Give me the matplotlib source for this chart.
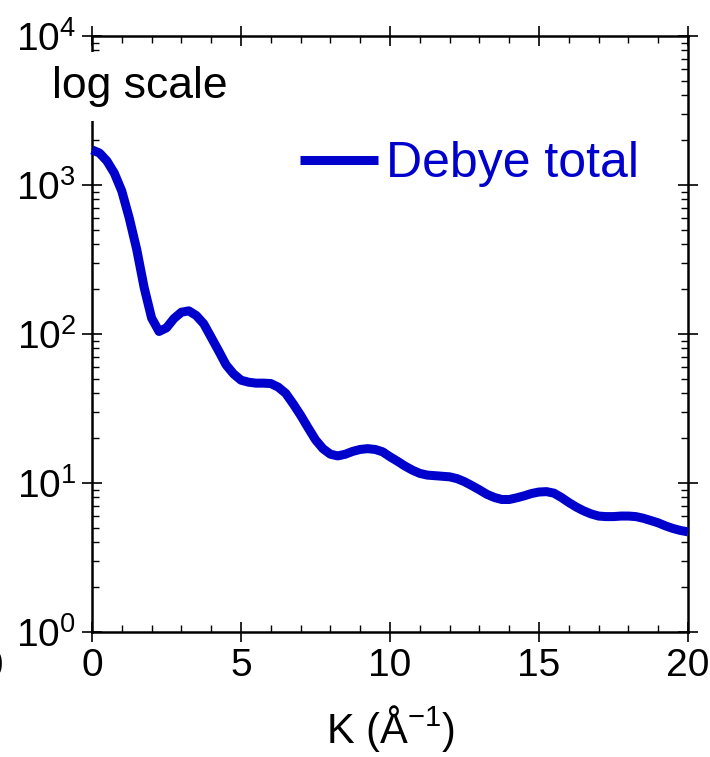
import numpy as np
import matplotlib
matplotlib.use("Agg")
import matplotlib.pyplot as plt
from matplotlib.ticker import LogLocator, MultipleLocator, LogFormatterMathtext, NullFormatter

plt.rcParams['font.family'] = ['Liberation Sans', 'DejaVu Sans']
plt.rcParams['mathtext.fontset'] = 'custom'
plt.rcParams['mathtext.rm'] = 'Liberation Sans'
plt.rcParams['mathtext.it'] = 'Liberation Sans:italic'
plt.rcParams['mathtext.bf'] = 'Liberation Sans:bold'

# K values (1/Angstrom) and Debye total intensity
k_vals = [0.0, 0.25, 0.5, 0.75, 1.0, 1.25, 1.5, 1.75, 2.0, 2.25, 2.5, 2.75,
          3.0, 3.25, 3.5, 3.75, 4.0, 4.25, 4.5, 4.75, 5.0, 5.25, 5.5, 5.75,
          6.0, 6.25, 6.5, 6.75, 7.0, 7.25, 7.5, 7.75, 8.0, 8.25, 8.5, 8.75,
          9.0, 9.25, 9.5, 9.75, 10.0, 10.25, 10.5, 10.75, 11.0, 11.25, 11.5,
          11.75, 12.0, 12.25, 12.5, 12.75, 13.0, 13.25, 13.5, 13.75, 14.0,
          14.25, 14.5, 14.75, 15.0, 15.25, 15.5, 15.75, 16.0, 16.25, 16.5,
          16.75, 17.0, 17.25, 17.5, 17.75, 18.0, 18.25, 18.5, 18.75, 19.0,
          19.25, 19.5, 19.75, 20.0]
debye_total = [1720, 1640, 1450, 1200, 910, 600, 370, 205, 128, 104, 110, 127,
               140, 143, 133, 117, 95, 77, 62, 54, 49, 47.5, 46.8, 46.8,
               46.5, 44, 40, 34, 28.5, 23.5, 19.5, 17, 15.6, 15.2, 15.6, 16.3,
               16.8, 17.0, 16.8, 16.2, 15.0, 14.0, 13.0, 12.2, 11.6, 11.3, 11.2,
               11.1, 11.0, 10.7, 10.2, 9.6, 9.0, 8.4, 8.0, 7.75, 7.75,
               7.95, 8.2, 8.5, 8.7, 8.75, 8.55, 8.0, 7.4, 6.9, 6.5,
               6.2, 6.0, 5.95, 5.95, 6.0, 6.0, 5.95, 5.8, 5.6, 5.4,
               5.15, 4.95, 4.8, 4.7]

line_color = '#0000CC'

fig = plt.figure(figsize=(7.1, 7.57), dpi=100)
ax = fig.add_axes([92/710, 1 - 632/757, 596/710, 596/757])

ax.plot(k_vals, debye_total, color=line_color, lw=6.5, solid_capstyle='butt',
        solid_joinstyle='round', label='Debye total', zorder=3, clip_on=False)

ax.set_yscale('log')
ax.set_xlim(0, 20)
ax.set_ylim(1, 1e4)

ax.xaxis.set_major_locator(MultipleLocator(5))
ax.xaxis.set_minor_locator(MultipleLocator(1))
ax.yaxis.set_major_locator(LogLocator(base=10, numticks=10))
ax.yaxis.set_minor_locator(LogLocator(base=10, subs=np.arange(2, 10), numticks=20))
ax.yaxis.set_major_formatter(LogFormatterMathtext())
ax.yaxis.set_minor_formatter(NullFormatter())

for s in ax.spines.values():
    s.set_linewidth(1.8)

ax.tick_params(which='major', direction='inout', length=15, width=1.2,
               top=True, right=True, labelsize=28, pad=4)
ax.tick_params(which='minor', direction='in', length=5, width=1.0,
               top=True, right=True)

ax.set_xlabel(r'K ($\mathrm{\AA}^{-1}$)', fontsize=30, labelpad=14)

# label of neighbouring panel that peeks in at the left edge
fig.text(-18/710, 1 - 667/757, '20', fontsize=28, ha='center', va='center')

ax.text(-0.067, 0.896, 'log scale', transform=ax.transAxes, fontsize=32,
        ha='left', va='baseline', zorder=5, clip_on=False,
        bbox=dict(boxstyle='square,pad=0.32', fc='white', ec='none'))

leg = ax.legend(loc='center left', bbox_to_anchor=(0.349, 0.785), frameon=False,
                fontsize=36, handlelength=1.56, handletextpad=0.15,
                borderpad=0, borderaxespad=0)
for t in leg.get_texts():
    t.set_color(line_color)

fig.savefig('out.png', dpi=100)
